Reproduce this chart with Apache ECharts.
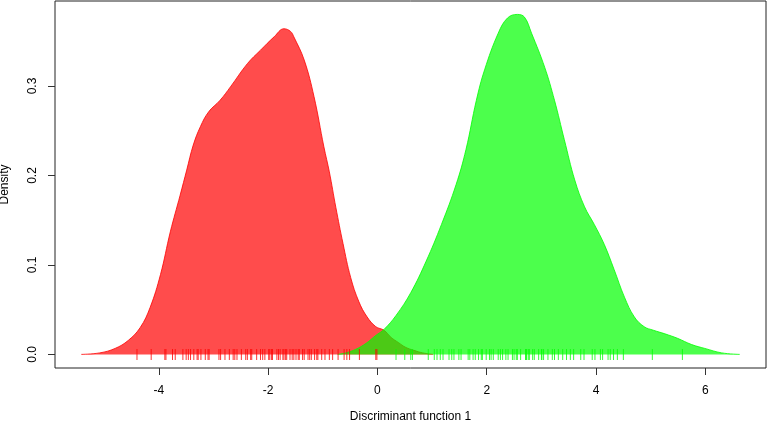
<!DOCTYPE html>
<html>
<head>
<meta charset="utf-8">
<script src="https://cdn.jsdelivr.net/npm/echarts@6/dist/echarts.min.js"></script>
<style>html,body{margin:0;padding:0;background:#fff}#c{width:767px;height:423px}</style>
</head>
<body>
<div id="c"></div>
<script>
// Density curve of group 1 (red): [x, density]
var redDensity = [
  [-5.42,0],[-5.08,0.0017],[-4.80,0.0067],[-4.56,0.0156],[-4.34,0.0301],[-4.16,0.0524],
  [-3.97,0.0892],[-3.79,0.137],[-3.61,0.178],[-3.49,0.206],[-3.37,0.234],[-3.24,0.2545],
  [-3.09,0.271],[-2.88,0.284],[-2.69,0.299],[-2.38,0.325],[-2.14,0.340],[-1.89,0.355],
  [-1.71,0.364],[-1.59,0.361],[-1.53,0.355],[-1.34,0.329],[-1.16,0.288],[-0.98,0.232],
  [-0.88,0.204],[-0.76,0.164],[-0.63,0.124],[-0.49,0.086],[-0.34,0.059],[-0.19,0.042],
  [-0.03,0.031],[0.12,0.027],[0.25,0.019],[0.38,0.0134],[0.52,0.0078],[0.67,0.0045],
  [0.83,0.0017],[1.02,0]
];
// Density curve of group 2 (green): [x, density]
var greenDensity = [
  [-0.73,0],[-0.58,0.0017],[-0.40,0.0056],[-0.21,0.0123],[-0.03,0.0212],[0.12,0.0279],
  [0.34,0.0435],[0.61,0.069],[0.89,0.104],[1.17,0.145],[1.44,0.190],[1.62,0.229],
  [1.81,0.284],[1.96,0.318],[2.21,0.359],[2.38,0.376],[2.56,0.380],[2.69,0.377],
  [2.82,0.359],[3.06,0.321],[3.24,0.284],[3.42,0.240],[3.61,0.195],[3.79,0.165],
  [3.97,0.145],[4.15,0.123],[4.33,0.095],[4.52,0.064],[4.70,0.042],[4.88,0.031],
  [5.05,0.027],[5.26,0.023],[5.49,0.018],[5.75,0.011],[5.99,0.0067],[6.30,0.0017],[6.63,0]
];
// Rug (individual scores) of group 1
var redRug = [
  -4.40,-4.14,-3.89,-3.87,-3.75,-3.70,-3.56,-3.50,-3.46,-3.42,-3.36,-3.30,-3.28,-3.23,
  -3.15,-3.10,-3.08,-2.90,-2.87,-2.79,-2.71,-2.64,-2.61,-2.57,-2.49,-2.41,-2.38,
  -2.32,-2.30,-2.21,-2.14,-2.10,-2.06,-1.99,-1.97,-1.94,-1.92,-1.84,-1.81,-1.78,-1.73,
  -1.71,-1.68,-1.66,-1.60,-1.56,-1.53,-1.49,-1.45,-1.43,-1.37,-1.34,-1.27,-1.24,-1.21,
  -1.15,-1.11,-1.09,-1.02,-0.96,-0.88,-0.82,-0.72,-0.61,-0.56,-0.51,-0.33,-0.03,-0.01
];
// Rug (individual scores) of group 2
var greenRug = [
  0.34,0.50,0.61,0.64,0.93,1.04,1.09,1.15,1.20,1.31,1.36,1.40,1.49,1.53,1.66,1.69,1.75,
  1.79,1.85,1.90,1.92,1.99,2.05,2.08,2.12,2.21,2.25,2.29,2.35,2.39,2.47,2.50,2.54,2.56,
  2.62,2.71,2.72,2.73,2.76,2.78,2.84,2.87,2.95,3.00,3.01,3.04,3.12,3.20,3.24,3.31,3.39,
  3.46,3.53,3.59,3.72,3.78,3.93,3.98,4.08,4.12,4.22,4.26,4.32,4.39,4.50,5.03,5.58
];
var xTicks = [-4,-2,0,2,4,6];
var yTicks = [0,0.1,0.2,0.3];
var xTitle = 'Discriminant function 1';
var yTitle = 'Density';

var font = 'Liberation Sans, Arial, sans-serif';
function rug(arr){ return arr.map(function(v){ return [v, 0]; }); }

var chart = echarts.init(document.getElementById('c'), null, {renderer:'canvas'});
chart.setOption({
  animation: false,
  backgroundColor: '#fff',
  grid: {left: 55, right: 1, top: 1, bottom: 55, show: true, borderColor: '#222', borderWidth: 1,
    containLabel: false, outerBoundsMode: 'none'},
  xAxis: {
    type: 'value', min: -5.9, max: 7.11,
    splitLine: {show: false},
    axisLine: {show: false, onZero: false},
    axisTick: {show: true, length: 7, lineStyle: {color: '#333'}, customValues: xTicks},
    axisLabel: {show: true, margin: 17, color: '#000', fontSize: 12, fontFamily: font, customValues: xTicks,
      formatter: function(v){ return String(v); }},
    name: xTitle, nameLocation: 'middle', nameGap: 43,
    nameTextStyle: {color: '#000', fontSize: 12, fontFamily: font}
  },
  yAxis: {
    type: 'value', min: -0.0152, max: 0.395,
    splitLine: {show: false},
    axisLine: {show: false, onZero: false},
    axisTick: {show: true, length: 7, lineStyle: {color: '#333'}, customValues: yTicks},
    axisLabel: {show: true, margin: 16, rotate: 90, color: '#000', fontSize: 12, fontFamily: font, customValues: yTicks,
      formatter: function(v){ return v.toFixed(1); }},
    name: yTitle, nameLocation: 'middle', nameGap: 44, nameRotate: 90,
    nameTextStyle: {color: '#000', fontSize: 12, fontFamily: font}
  },
  series: [
    {type: 'line', data: redDensity, smooth: 0.4, symbol: 'none',
      lineStyle: {color: 'rgba(255,0,0,0.8)', width: 1},
      areaStyle: {color: 'rgba(255,0,0,0.7)', opacity: 1, origin: 0}, z: 2},
    {type: 'line', data: greenDensity, smooth: 0.4, symbol: 'none',
      lineStyle: {color: 'rgba(0,255,0,0.8)', width: 1},
      areaStyle: {color: 'rgba(0,255,0,0.7)', opacity: 1, origin: 0}, z: 3},
    {type: 'scatter', data: rug(redRug), symbol: 'rect', symbolSize: [1, 11],
      itemStyle: {color: '#ff0000'}, z: 4, silent: true},
    {type: 'scatter', data: rug(greenRug), symbol: 'rect', symbolSize: [1, 11],
      itemStyle: {color: '#00ff00'}, z: 4, silent: true}
  ]
});
</script>
</body>
</html>
